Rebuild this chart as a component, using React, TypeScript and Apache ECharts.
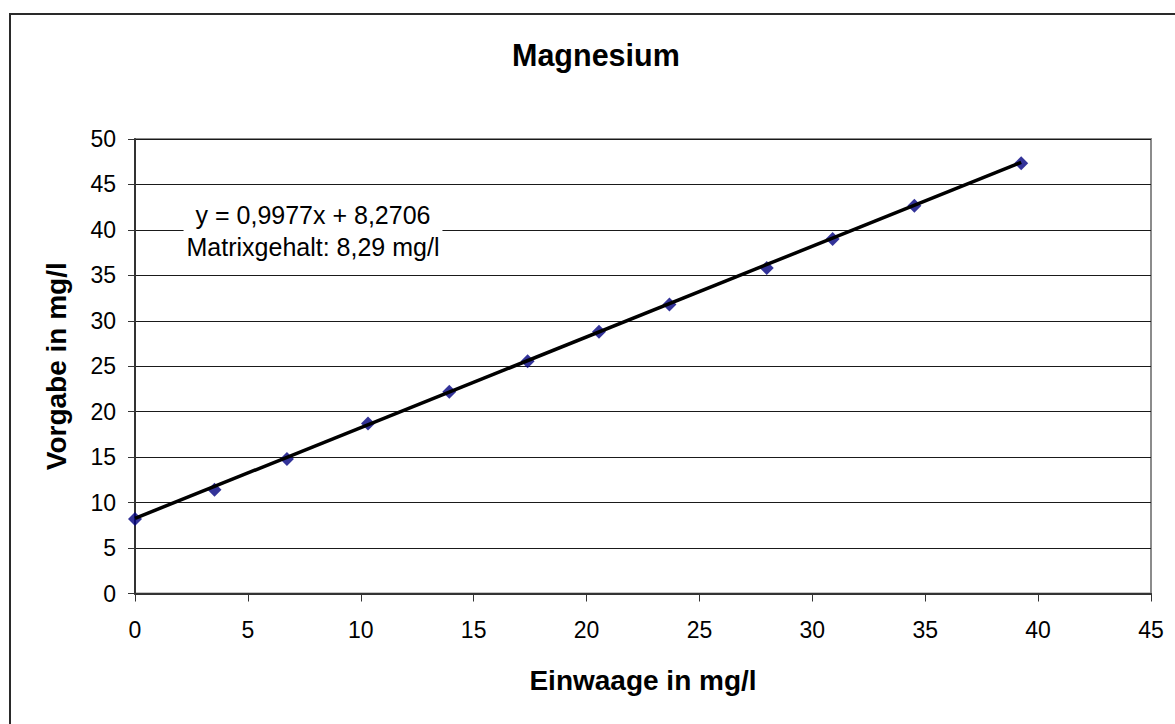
import React, { useEffect, useRef } from "react";
import * as echarts from "echarts";

const einwaage = [0, 3.52, 6.73, 10.32, 13.92, 17.39, 20.55, 23.67, 27.98, 30.9, 34.52, 39.25];
const vorgabe = [8.2, 11.42, 14.8, 18.7, 22.2, 25.55, 28.8, 31.78, 35.8, 39.0, 42.65, 47.33];
const slope = 0.9977;
const intercept = 8.2706;
const titleText = "Magnesium";
const xName = "Einwaage in mg/l";
const yName = "Vorgabe in mg/l";
const equationLines = ["y = 0,9977x + 8,2706", "Matrixgehalt: 8,29 mg/l"];

const FONT = '"Liberation Sans", Arial, sans-serif';

export default function App() {
  const ref = useRef<HTMLDivElement>(null);
  useEffect(() => {
    if (!ref.current) return;
    const chart = echarts.init(ref.current, undefined, { renderer: "svg" });
    const xMin = Math.min(...einwaage);
    const xMax = Math.max(...einwaage);
    const trend = [xMin, xMax].map((x) => [x, slope * x + intercept]);
    chart.setOption({
      animation: false,
      backgroundColor: "#fff",
      title: {
        text: titleText,
        left: 512,
        top: 39,
        padding: 0,
        textStyle: { fontFamily: FONT, fontSize: 30.5, fontWeight: "bold", color: "#000" },
      },
      grid: {
        left: 135,
        top: 139,
        right: 24,
        bottom: 130.5,
        show: true,
        borderColor: "#8c8c8c",
        borderWidth: 2,
        backgroundColor: "#fff",
      },
      xAxis: {
        type: "value",
        min: 0,
        max: 45,
        interval: 5,
        name: xName,
        nameLocation: "middle",
        nameGap: 73,
        nameTextStyle: { fontFamily: FONT, fontSize: 28, fontWeight: "bold", color: "#000" },
        axisLine: { show: true, onZero: false, lineStyle: { color: "#333", width: 2 } },
        axisTick: { show: true, inside: false, length: 8, lineStyle: { color: "#333", width: 1 } },
        axisLabel: { fontFamily: FONT, fontSize: 23, color: "#000", margin: 25 },
        splitLine: { show: false },
      },
      yAxis: {
        type: "value",
        min: 0,
        max: 50,
        interval: 5,
        name: yName,
        nameLocation: "middle",
        nameGap: 65,
        nameTextStyle: { fontFamily: FONT, fontSize: 28, fontWeight: "bold", color: "#000" },
        axisLine: { show: true, onZero: false, lineStyle: { color: "#333", width: 2 } },
        axisTick: { show: true, inside: false, length: 7, lineStyle: { color: "#333", width: 1 } },
        axisLabel: { fontFamily: FONT, fontSize: 23, color: "#000", margin: 19 },
        splitLine: { show: true, lineStyle: { color: "#1a1a1a", width: 1 } },
      },
      graphic: [
        {
          type: "rect",
          z: -10,
          silent: true,
          shape: { x: 10, y: 14, width: 1300, height: 900 },
          style: { fill: "none", stroke: "#2a2a2a", lineWidth: 2 },
        },
        {
          type: "text",
          x: 313,
          y: 230.5,
          z: 50,
          style: {
            text: equationLines.join("\n"),
            fontFamily: FONT,
            fontSize: 25,
            lineHeight: 32,
            fill: "#000",
            align: "center",
            verticalAlign: "middle",
            backgroundColor: "#fff",
            padding: [2, 3],
          },
        },
      ],
      series: [
        {
          type: "scatter",
          data: einwaage.map((x, i) => [x, vorgabe[i]]),
          symbol: "diamond",
          symbolSize: 14,
          itemStyle: { color: "#000080" },
          z: 3,
        },
        {
          type: "line",
          data: trend,
          symbol: "none",
          lineStyle: { color: "#000", width: 3.5 },
          z: 4,
        },
      ],
    });
    return () => chart.dispose();
  }, []);
  return (
    <div
      ref={ref}
      style={{ position: "fixed", left: 0, top: 0, width: 1175, height: 724, background: "#fff" }}
    />
  );
}
